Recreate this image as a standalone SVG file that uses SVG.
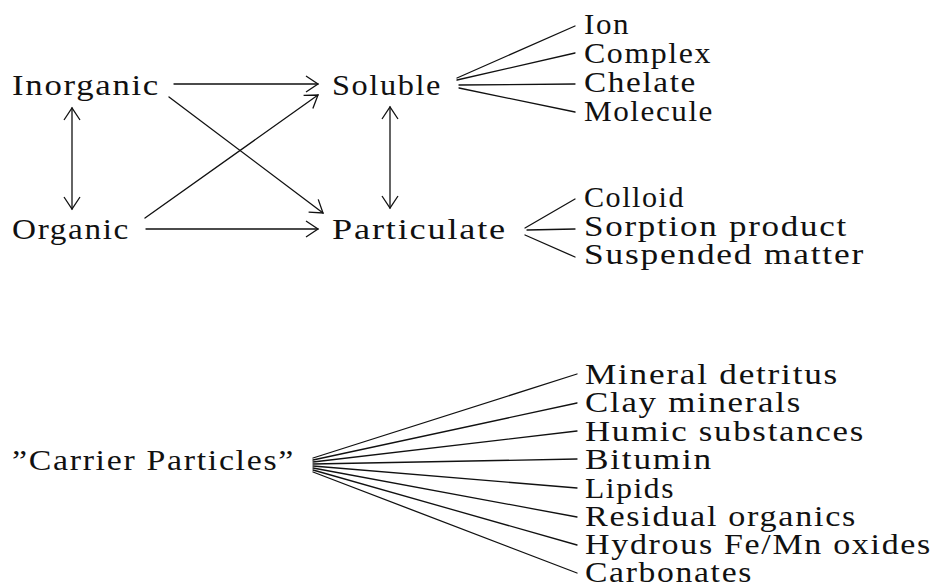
<svg xmlns="http://www.w3.org/2000/svg" width="936" height="586" viewBox="0 0 936 586">
  <style>
    text { font-family: "Liberation Serif", "Times New Roman", serif; font-size: 30px; letter-spacing: 1.5px; fill: #111; }
    .ln { stroke: #111; stroke-width: 1.3; fill: none; stroke-linecap: round; }
    .arr { marker-end: url(#head); }
    .both { marker-start: url(#head); marker-end: url(#head); }
  </style>
  <defs>
    <marker id="head" markerUnits="userSpaceOnUse" markerWidth="16" markerHeight="20" viewBox="-14 -10 16 20" refX="0" refY="0" orient="auto-start-reverse">
      <path d="M-12,-8 L0,0 L-12,8" fill="none" stroke="#111" stroke-width="1.3"/>
    </marker>
  </defs>
  <rect width="936" height="586" fill="#fff"/>

  <!-- connectors -->
  <g id="connectors">
    <!-- species forms -->
    <line class="ln arr" x1="174" y1="84" x2="318" y2="84"/>
    <line class="ln arr" x1="169" y1="97" x2="323" y2="213"/>
    <line class="ln arr" x1="145" y1="218" x2="318" y2="95"/>
    <line class="ln arr" x1="146" y1="229" x2="318" y2="229"/>
    <line class="ln both" x1="72" y1="108" x2="72" y2="209"/>
    <line class="ln both" x1="390" y1="107" x2="390" y2="208"/>
    <!-- soluble fan -->
    <line class="ln" x1="457" y1="78" x2="575" y2="26"/>
    <line class="ln" x1="457" y1="80" x2="575" y2="53"/>
    <line class="ln" x1="459" y1="85" x2="575" y2="84"/>
    <line class="ln" x1="459" y1="88" x2="575" y2="112"/>
    <!-- particulate fan -->
    <line class="ln" x1="525" y1="228" x2="575" y2="199"/>
    <line class="ln" x1="527" y1="230" x2="575" y2="229"/>
    <line class="ln" x1="525" y1="235" x2="575" y2="257"/>
    <!-- carrier particle fan -->
    <line class="ln" x1="313" y1="458" x2="577" y2="374"/>
    <line class="ln" x1="313" y1="460" x2="577" y2="403"/>
    <line class="ln" x1="313" y1="462" x2="577" y2="431"/>
    <line class="ln" x1="313" y1="464" x2="577" y2="459"/>
    <line class="ln" x1="313" y1="466" x2="577" y2="488"/>
    <line class="ln" x1="313" y1="468" x2="577" y2="517"/>
    <line class="ln" x1="313" y1="470" x2="577" y2="545"/>
    <line class="ln" x1="313" y1="472" x2="577" y2="573"/>
  </g>

  <!-- main nodes -->
  <g id="inorganic"><text x="12" y="95" textLength="148" lengthAdjust="spacingAndGlyphs">Inorganic</text></g>
  <g id="organic"><text x="12" y="239" textLength="118" lengthAdjust="spacingAndGlyphs">Organic</text></g>
  <g id="soluble"><text x="332" y="95" textLength="110" lengthAdjust="spacingAndGlyphs">Soluble</text></g>
  <g id="particulate"><text x="332" y="239" textLength="175" lengthAdjust="spacingAndGlyphs">Particulate</text></g>

  <!-- soluble forms -->
  <g id="ion"><text x="584" y="34" textLength="46" lengthAdjust="spacingAndGlyphs">Ion</text></g>
  <g id="complex"><text x="584" y="63" textLength="128" lengthAdjust="spacingAndGlyphs">Complex</text></g>
  <g id="chelate"><text x="584" y="92" textLength="113" lengthAdjust="spacingAndGlyphs">Chelate</text></g>
  <g id="molecule"><text x="584" y="121" textLength="130" lengthAdjust="spacingAndGlyphs">Molecule</text></g>

  <!-- particulate forms -->
  <g id="colloid"><text x="584" y="207" textLength="101" lengthAdjust="spacingAndGlyphs">Colloid</text></g>
  <g id="sorption"><text x="584" y="236" textLength="264" lengthAdjust="spacingAndGlyphs">Sorption product</text></g>
  <g id="suspended"><text x="584" y="264" textLength="281" lengthAdjust="spacingAndGlyphs">Suspended matter</text></g>

  <!-- carrier particles -->
  <g id="carrier"><text x="12" y="470" textLength="283" lengthAdjust="spacingAndGlyphs">”Carrier Particles”</text></g>
  <g id="mineral"><text x="585" y="384" textLength="254" lengthAdjust="spacingAndGlyphs">Mineral detritus</text></g>
  <g id="clay"><text x="585" y="412" textLength="217" lengthAdjust="spacingAndGlyphs">Clay minerals</text></g>
  <g id="humic"><text x="585" y="441" textLength="280" lengthAdjust="spacingAndGlyphs">Humic substances</text></g>
  <g id="bitumin"><text x="585" y="469" textLength="128" lengthAdjust="spacingAndGlyphs">Bitumin</text></g>
  <g id="lipids"><text x="585" y="498" textLength="90" lengthAdjust="spacingAndGlyphs">Lipids</text></g>
  <g id="residual"><text x="585" y="526" textLength="272" lengthAdjust="spacingAndGlyphs">Residual organics</text></g>
  <g id="hydrous"><text x="585" y="554" textLength="347" lengthAdjust="spacingAndGlyphs">Hydrous Fe/Mn oxides</text></g>
  <g id="carbonates"><text x="585" y="582" textLength="168" lengthAdjust="spacingAndGlyphs">Carbonates</text></g>
</svg>
